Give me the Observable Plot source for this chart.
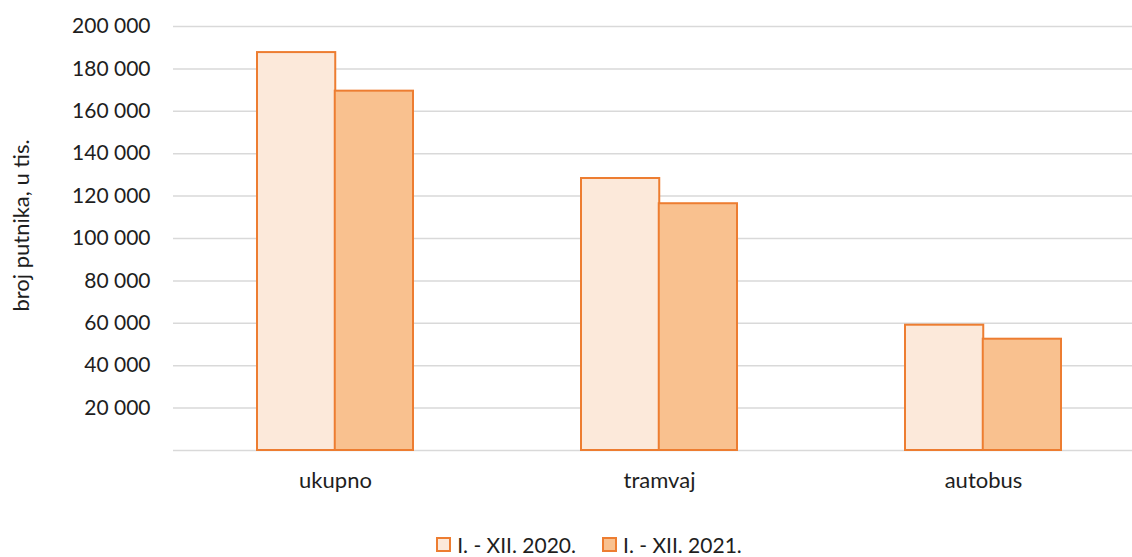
<!DOCTYPE html>
<html><head><meta charset="utf-8">
<script src="https://cdn.jsdelivr.net/npm/d3@7"></script>
<script src="https://cdn.jsdelivr.net/npm/@observablehq/plot@0.6"></script>
<style>
body{margin:0;background:#fff;font-family:Lato, "Open Sans", sans-serif;color:#1e1e1e;overflow:hidden;}
#chart svg{display:block;}
#legend{display:flex;justify-content:center;align-items:center;height:37px;padding-left:46px;padding-top:15px;padding-bottom:3px;font-size:21px;line-height:1;box-sizing:border-box;}
.item{display:flex;align-items:center;margin:0 13px;}
.sw{width:11px;height:11px;border:2px solid #ED7D31;margin-right:6px;}
</style></head><body>
<div id="chart"></div>
<div id="legend"></div>
<script>
const categories = ["ukupno", "tramvaj", "autobus"];
const seriesNames = ["I. - XII. 2020.", "I. - XII. 2021."];
const values2020 = [187700, 128300, 59100];
const values2021 = [169500, 116400, 52500];
const yTickValues = [20000, 40000, 60000, 80000, 100000, 120000, 140000, 160000, 180000, 200000];
const gridValues = [0, 20000, 40000, 60000, 80000, 100000, 120000, 140000, 160000, 180000, 200000];
const yLabel = "broj putnika, u tis.";
const colors = ["#FCE9DA", "#F9C18F"];
const strokeColor = "#ED7D31";

const data2020 = categories.map((c, i) => ({cat: c, value: values2020[i]}));
const data2021 = categories.map((c, i) => ({cat: c, value: values2021[i]}));
const fmt = v => d3.format(",")(v).replace(/,/g, " ");

const chart = Plot.plot({
  width: 1132,
  height: 520,
  marginLeft: 173,
  marginRight: 0,
  marginTop: 26,
  marginBottom: 70,
  style: {fontFamily: "Lato, 'Open Sans', sans-serif", fontSize: "21px", color: "#1e1e1e", background: "#fff"},
  x: {domain: categories, range: [173, 1145], paddingInner: 0.52, paddingOuter: 0.26},
  y: {domain: [0, 200000], range: [450, 26]},
  marks: [
    Plot.ruleY(gridValues, {stroke: "#d9d9d9", strokeWidth: 1.5}),
    Plot.barY(data2020, {x: "cat", y: "value", fill: colors[0], stroke: strokeColor, strokeWidth: 2, insetRight: 77.75}),
    Plot.barY(data2021, {x: "cat", y: "value", fill: colors[1], stroke: strokeColor, strokeWidth: 2, insetLeft: 77.75}),
    Plot.axisY(yTickValues, {tickSize: 0, tickPadding: 23, tickFormat: fmt, label: null, fontSize: 21}),
    Plot.axisX({tickSize: 0, tickPadding: 22, label: null, fontSize: 22}),
    Plot.text([yLabel], {text: d => d, frameAnchor: "left", textAnchor: "middle", rotate: -90, dx: -152, dy: -13, fontSize: 22})
  ]
});
document.getElementById("chart").appendChild(chart);

const legend = document.getElementById("legend");
seriesNames.forEach((name, i) => {
  const item = document.createElement("div");
  item.className = "item";
  const sw = document.createElement("div");
  sw.className = "sw";
  sw.style.background = colors[i];
  const t = document.createElement("span");
  t.textContent = name;
  item.appendChild(sw); item.appendChild(t);
  legend.appendChild(item);
});
</script>
</body></html>
